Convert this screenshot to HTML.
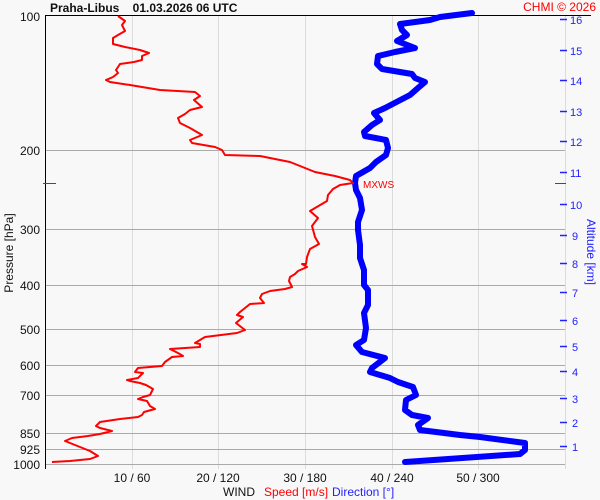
<!DOCTYPE html>
<html><head><meta charset="utf-8"><style>
body{margin:0;background:#f8f8f8;}
svg{display:block;font-family:"Liberation Sans",Arial,sans-serif;}
</style></head><body>
<svg width="600" height="500" viewBox="0 0 600 500" xmlns="http://www.w3.org/2000/svg">
<rect width="600" height="500" fill="#f8f8f8"/>
<g stroke="#dcdcdc" stroke-width="1">
<line x1="132.5" y1="16" x2="132.5" y2="469"/><line x1="218.5" y1="16" x2="218.5" y2="469"/>
<line x1="305.5" y1="16" x2="305.5" y2="469"/><line x1="392.5" y1="16" x2="392.5" y2="469"/>
<line x1="478.5" y1="16" x2="478.5" y2="469"/><line x1="565.5" y1="16" x2="565.5" y2="469"/>
</g>
<g stroke="#aaa" stroke-width="1">
<line x1="45" y1="150.5" x2="565" y2="150.5"/><line x1="45" y1="229.5" x2="565" y2="229.5"/>
<line x1="45" y1="285.5" x2="565" y2="285.5"/><line x1="45" y1="329.5" x2="565" y2="329.5"/>
<line x1="45" y1="365.5" x2="565" y2="365.5"/><line x1="45" y1="395.5" x2="565" y2="395.5"/>
<line x1="45" y1="433.5" x2="565" y2="433.5"/><line x1="45" y1="449.5" x2="565" y2="449.5"/>
<line x1="45" y1="464.5" x2="565" y2="464.5"/>
</g>
<line x1="45" y1="15.5" x2="591" y2="15.5" stroke="#000"/>
<line x1="45.5" y1="15" x2="45.5" y2="469" stroke="#000"/>
<line x1="43" y1="183.5" x2="56" y2="183.5" stroke="red"/>
<line x1="555" y1="183.5" x2="566" y2="183.5" stroke="red"/>
<g font-size="12" fill="#111" text-anchor="end">
<text x="40" y="21">100</text><text x="40" y="155">200</text><text x="40" y="234">300</text>
<text x="40" y="290">400</text><text x="40" y="334">500</text><text x="40" y="370">600</text>
<text x="40" y="400">700</text><text x="40" y="438">850</text><text x="40" y="454">925</text>
<text x="40" y="469">1000</text>
</g>
<text x="13" y="253" font-size="12" fill="#111" text-anchor="middle" transform="rotate(-90 13 253)">Pressure [hPa]</text>
<g font-size="12" fill="#111" text-anchor="middle">
<text x="132" y="482">10 / 60</text><text x="218" y="482">20 / 120</text><text x="305" y="482">30 / 180</text>
<text x="392" y="482">40 / 240</text><text x="478" y="482">50 / 300</text>
<text x="239" y="496">WIND</text>
</g>
<text x="264" y="496" font-size="12" fill="red">Speed [m/s]</text>
<text x="332" y="496" font-size="12" fill="#22f">Direction [°]</text>
<text x="50" y="12" font-size="12" font-weight="bold" fill="#111" xml:space="preserve">Praha-Libus    01.03.2026 06 UTC</text>
<text x="596" y="11" font-size="12" fill="red" text-anchor="end">CHMI © 2026</text>
<text x="363" y="188" font-size="10" fill="red">MXWS</text>
<g stroke="#22f" stroke-width="1.5">
<line x1="560" y1="19.5" x2="567" y2="19.5"/><line x1="560" y1="50.5" x2="567" y2="50.5"/><line x1="560" y1="80.5" x2="567" y2="80.5"/><line x1="560" y1="111.5" x2="567" y2="111.5"/><line x1="560" y1="141.5" x2="567" y2="141.5"/><line x1="560" y1="172.5" x2="567" y2="172.5"/><line x1="560" y1="204.5" x2="567" y2="204.5"/><line x1="560" y1="235.5" x2="567" y2="235.5"/><line x1="560" y1="263.5" x2="567" y2="263.5"/><line x1="560" y1="292.5" x2="567" y2="292.5"/><line x1="560" y1="320.5" x2="567" y2="320.5"/><line x1="560" y1="346.5" x2="567" y2="346.5"/><line x1="560" y1="371.5" x2="567" y2="371.5"/><line x1="560" y1="398.5" x2="567" y2="398.5"/><line x1="560" y1="422.5" x2="567" y2="422.5"/><line x1="560" y1="446.5" x2="567" y2="446.5"/>
</g>
<g font-size="11" fill="#22f">
<text x="570" y="24">16</text><text x="570" y="55">15</text><text x="570" y="85">14</text><text x="570" y="116">13</text><text x="570" y="146">12</text><text x="570" y="177">11</text><text x="570" y="209">10</text><text x="572" y="240">9</text><text x="572" y="268">8</text><text x="572" y="297">7</text><text x="572" y="325">6</text><text x="572" y="351">5</text><text x="572" y="376">4</text><text x="572" y="403">3</text><text x="572" y="427">2</text><text x="572" y="451">1</text>
</g>
<text x="587" y="252" font-size="12" fill="#22f" text-anchor="middle" transform="rotate(90 587 252)">Altitude [km]</text>
<polyline fill="none" stroke="#00f" stroke-width="6" stroke-linejoin="round" stroke-linecap="round" points="472,13 440,17 430,20 400,24 402,30 407,35 397,41 415,48 395,52 378,56 377,64 382,69 412,74 415,78 425,82 418,88 410,95 385,108 374,113 380,120 372,125 364,132 365,136 386,140 388,148 386,155 376,162 370,168 356,176 355,183 356,190 360,198 362,210 358,222 358,230 360,245 360,258 364,270 364,285 368,290 368,305 364,313 366,328 364,340 356,345 362,352 385,358 372,368 370,372 390,378 398,382 413,387 416,395 406,400 405,410 412,415 428,418 418,425 420,430 460,435 480,437 525,443 525,450 520,454 405,462"/>
<polyline fill="none" stroke="red" stroke-width="2" stroke-linejoin="round" points="118,16 125,21 122,25 125,31 118,35 113,38 113,44 125,47 140,50 149,53 142,56 142,60 134,62 120,64 116,70 118,73 113,77 106,80 110,82 130,85 160,90 195,92 200,96 194,100 202,107 190,110 185,114 178,118 180,123 190,128 202,135 190,140 192,143 215,147 222,150 225,155 260,156 290,162 305,168 315,172 335,176 350,180 353,183 340,185 333,189 328,195 327,201 310,211 318,218 312,226 315,237 319,244 310,249 307,257 306,264 302,264 307,267 298,271 295,274 290,277 289,281 292,287 285,289 270,291 262,294 260,298 264,303 250,304 240,312 237,315 243,317 236,323 245,330 237,333 205,337 195,343 200,344 200,347 185,348 170,349 178,353 183,356 172,357 165,362 162,366 150,367 138,368 135,372 143,373 138,378 127,380 130,381 140,383 146,385 153,389 150,395 143,397 138,399 147,401 150,406 155,409 144,412 142,415 138,417 120,419 100,422 96,426 100,428 112,431 100,434 88,436 72,438 65,441 70,443 80,447 90,451 98,456 90,459 70,461 52,462"/>
</svg>
</body></html>
